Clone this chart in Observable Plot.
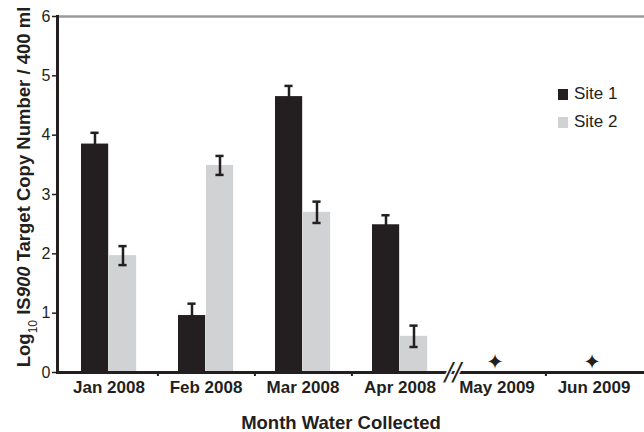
<!DOCTYPE html>
<html><head><meta charset="utf-8">
<script src="https://cdn.jsdelivr.net/npm/d3@7"></script>
<script src="https://cdn.jsdelivr.net/npm/@observablehq/plot@0.6"></script>
<style>
body{margin:0;background:#fff;font-family:"Liberation Sans",Arial,sans-serif;}
#wrap{position:relative;width:644px;height:432px;}
.leg{position:absolute;left:558px;font-size:17px;color:#231f20;display:flex;align-items:center;}
.leg span.sw{display:inline-block;width:10px;height:11px;margin-right:6px;}
</style>
</head><body><div id="wrap"></div>
<script>
const months = ["Jan 2008","Feb 2008","Mar 2008","Apr 2008","May 2009","Jun 2009"];
const measuredMonths = ["Jan 2008","Feb 2008","Mar 2008","Apr 2008"];
const site1 = [3.85, 0.96, 4.65, 2.49];
const site1Err = [0.19, 0.20, 0.18, 0.16];
const site2 = [1.97, 3.49, 2.70, 0.61];
const site2Err = [0.16, 0.16, 0.18, 0.18];
const notDetectedMonths = ["May 2009","Jun 2009"];
const notDetectedY = [0.17, 0.17];
const yTicks = [0,1,2,3,4,5,6];
const boundaryMonths = ["Jan 2008","Feb 2008","Mar 2008","May 2009"];
const breakMonth = ["Apr 2008"];
const seriesNames = ["Site 1","Site 2"];
const seriesColors = ["#231f20","#d1d2d4"];

const ink = "#231f20";
const W = 644, H = 432;
const mL = 57, mR = 0, mT = 16, mB = 60;
const bw = (W - mL - mR) / months.length;

const s1 = measuredMonths.map((m,i)=>({month:m, v:site1[i], lo:site1[i]-site1Err[i], hi:site1[i]+site1Err[i]}));
const s2 = measuredMonths.map((m,i)=>({month:m, v:site2[i], lo:site2[i]-site2Err[i], hi:site2[i]+site2Err[i]}));
const nd = notDetectedMonths.map((m,i)=>({month:m, y:notDetectedY[i]}));

const capInset = (bw - 9) / 2;
const plot = Plot.plot({
  width: W, height: H,
  marginLeft: mL, marginRight: mR, marginTop: mT, marginBottom: mB,
  style: {fontFamily: '"Liberation Sans", Arial, sans-serif', color: ink, background: "#fff"},
  x: {domain: months, padding: 0},
  y: {domain: [0, 6]},
  marks: [
    Plot.frame({anchor: "top", stroke: "#9a9a9a", strokeWidth: 2.5}),
    Plot.barY(s1, {x: "month", y: "v", fill: seriesColors[0], insetLeft: 21, insetRight: bw - 49}),
    Plot.barY(s2, {x: "month", y: "v", fill: seriesColors[1], insetLeft: 49, insetRight: bw - 77}),
    Plot.ruleX(s1, {x: "month", y1: "lo", y2: "hi", dx: -14, stroke: ink, strokeWidth: 2.5}),
    Plot.tickY(s1, {x: "month", y: "hi", dx: -14, stroke: ink, strokeWidth: 2.5, insetLeft: capInset, insetRight: capInset}),
    Plot.ruleX(s2, {x: "month", y1: "lo", y2: "hi", dx: 14, stroke: ink, strokeWidth: 2.5}),
    Plot.tickY(s2, {x: "month", y: "hi", dx: 14, stroke: ink, strokeWidth: 2.5, insetLeft: capInset, insetRight: capInset}),
    Plot.tickY(s2, {x: "month", y: "lo", dx: 14, stroke: ink, strokeWidth: 2.5, insetLeft: capInset, insetRight: capInset}),
    Plot.text(nd, {x: "month", y: "y", text: () => "\u2726", dx: -2, fontSize: 21, fill: ink, fontFamily: "DejaVu Sans"}),
    Plot.frame({anchor: "left", stroke: ink, strokeWidth: 3}),
    Plot.frame({anchor: "bottom", stroke: ink, strokeWidth: 3}),
    Plot.ruleX(boundaryMonths, {x: d => d, dx: bw/2, y1: 0, y2: 0, insetBottom: -4, stroke: ink, strokeWidth: 2}),
    Plot.text(breakMonth, {x: d => d, dx: bw/2 + 4, y: 0, text: () => "//", fontSize: 24, fontStyle: "italic", fill: ink, stroke: "white", strokeWidth: 3, paintOrder: "stroke", fontFamily: "DejaVu Sans"}),
    Plot.axisY({ticks: yTicks, tickSize: 5, tickPadding: 2, fontSize: 16, label: null, tickFormat: d => d, stroke: ink, strokeWidth: 1.5}),
    Plot.axisX({tickSize: 0, tickPadding: 8, fontSize: 17, fontWeight: "bold", label: null})
  ]
});

const svg = d3.select(plot);
const yl = svg.append("text")
  .attr("transform", `translate(30,${(mT + H - mB)/2 - 7}) rotate(-90)`)
  .attr("text-anchor", "middle").attr("fill", ink)
  .style("font-size", "18.5px").style("font-weight", "bold")
  .style("font-family", '"Liberation Sans", Arial, sans-serif');
yl.append("tspan").text("Log");
yl.append("tspan").text("10").attr("baseline-shift", "sub").style("font-size", "12px").style("font-weight", "normal");
yl.append("tspan").text(" IS");
yl.append("tspan").text("900").style("font-style", "italic");
yl.append("tspan").text(" Target Copy Number / 400 ml");

svg.append("text")
  .attr("x", 341).attr("y", 429)
  .attr("text-anchor", "middle").attr("fill", ink)
  .style("font-size", "18.5px").style("font-weight", "bold")
  .style("font-family", '"Liberation Sans", Arial, sans-serif')
  .text("Month Water Collected");

const wrap = document.getElementById("wrap");
wrap.appendChild(plot);
seriesNames.forEach((n, i) => {
  const d = document.createElement("div");
  d.className = "leg";
  d.style.top = (84 + i * 28) + "px";
  d.innerHTML = `<span class="sw" style="background:${seriesColors[i]}"></span>${n}`;
  wrap.appendChild(d);
});
</script>
</body></html>
